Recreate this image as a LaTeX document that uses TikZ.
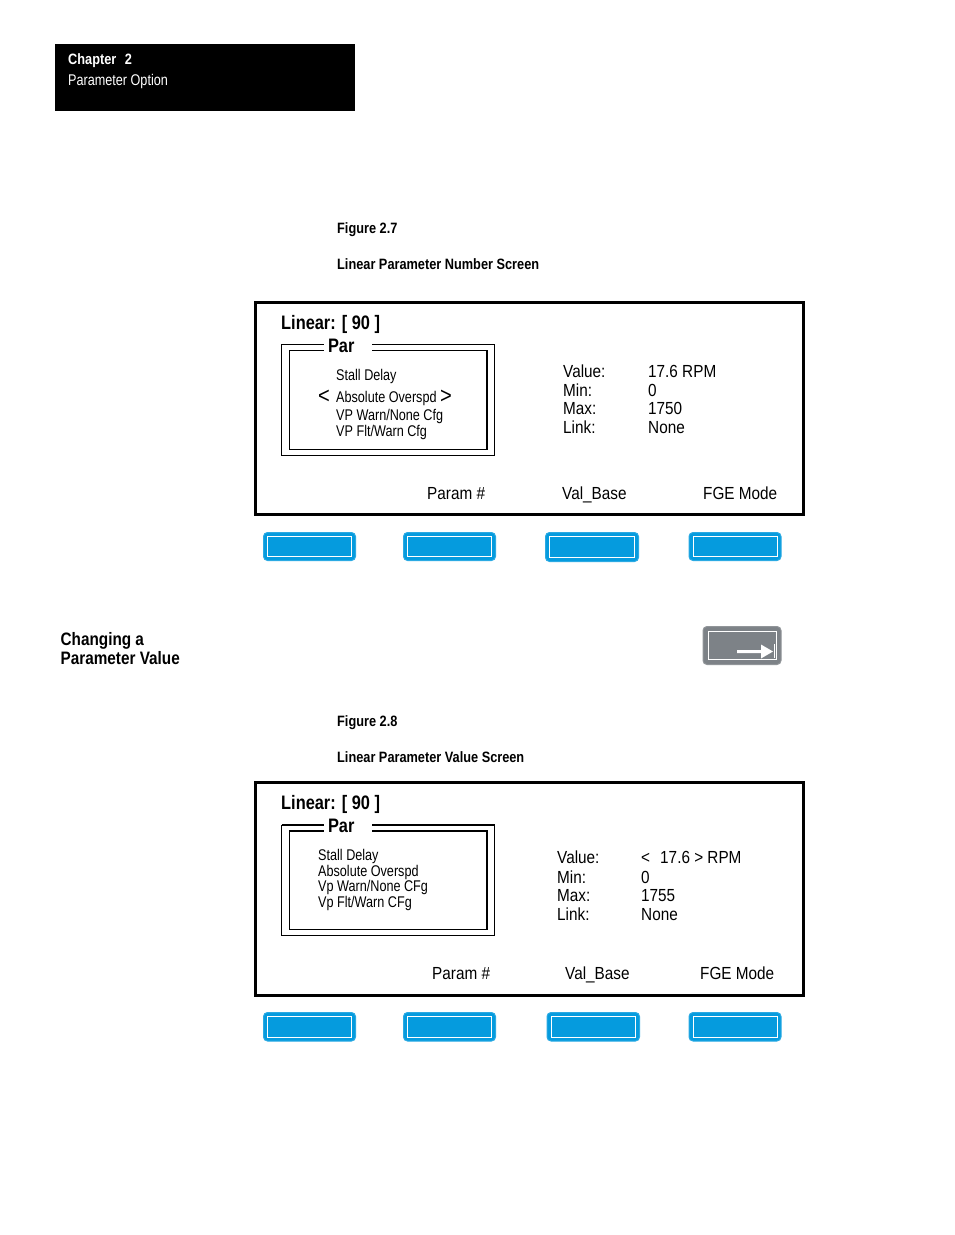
\documentclass[tikz,border=0pt]{standalone}
\usepackage{fontspec}
\setmainfont[FakeStretch=0.8]{Liberation Sans}
\newfontfamily\labelfont[FakeStretch=0.875]{Liberation Sans}
\newfontfamily\smallfont[FakeStretch=0.815]{Liberation Sans}
\newfontfamily\headfont[FakeStretch=0.85]{Liberation Sans}
\newfontfamily\titlefont[FakeStretch=0.84]{Liberation Sans}
\definecolor{keyblue}{RGB}{5,155,222}
\definecolor{keygray}{RGB}{125,130,135}
\tikzset{
	label/.style={anchor=base west,inner sep=0pt,font=\labelfont\fontsize{17.5}{20}\selectfont},
	small/.style={anchor=base west,inner sep=0pt,font=\smallfont\fontsize{15.5}{18}\selectfont},
	head/.style={anchor=base west,inner sep=0pt,font=\headfont\bfseries\fontsize{15}{18}\selectfont},
	title/.style={anchor=base west,inner sep=0pt,font=\titlefont\bfseries\fontsize{19.5}{22}\selectfont},
	section/.style={anchor=base west,inner sep=0pt,font=\headfont\bfseries\fontsize{18}{20}\selectfont},
	chevron/.style={anchor=base west,inner sep=0pt,font=\labelfont\fontsize{23}{24}\selectfont}
}
\def\softkey(#1,#2)(#3,#4){
	\draw[keyblue!85,fill=keyblue,line width=1pt,rounded corners=4pt] (#1,#2) rectangle (#3,#4);
	\draw[white,line width=1pt] (#1+4,#2+4) rectangle (#3-4,#4-4);
}
\begin{document}
\begin{tikzpicture}[x=1pt,y=-1pt]
	\useasboundingbox (0,0) rectangle (954,1235);
	
	\fill[black] (55,44) rectangle (355,111);
	\node[head,white] (chapter) at (68,64) {Chapter\,\, 2};
	\node[small,white] (option) at (68,85) {Parameter Option};
	
	\node[head] (fig27) at (337,233) {Figure 2.7};
	\node[head] (cap27) at (337,269) {Linear Parameter Number Screen};
	
	% first screen
	\draw[line width=3pt] (255,302.5) rectangle (803.5,514.5);
	\node[title] (lin1) at (281,329) {Linear: [ 90 ]};
	\draw[line width=1pt] (281.5,344.5) rectangle (494.5,455);
	\draw[line width=1pt] (289,350.5) rectangle (487,449.5);
	\draw[line width=1.5pt] (289,350.5) -- (487,350.5) -- (487,449.5);
	\node[title,anchor=center,fill=white,minimum width=48,minimum height=18] (par1) at (348,345.5) {\makebox[48pt][l]{\hspace{4pt}Par}};
	\node[small] (m1) at (336,380) {Stall Delay};
	\node[chevron] (lt1) at (318,403) {<};
	\node[small] (m2) at (336,402) {Absolute Overspd};
	\node[chevron] (gt1) at (440,403) {>};
	\node[small] (m3) at (336,420) {VP Warn/None Cfg};
	\node[small] (m4) at (336,436) {VP Flt/Warn Cfg};
	\node[label] (v1) at (563,377.5) {Value:};
	\node[label] (v2) at (648,377.5) {17.6 RPM};
	\node[label] (v3) at (563,396.5) {Min:};
	\node[label] (v4) at (648,396.5) {0};
	\node[label] (v5) at (563,414.5) {Max:};
	\node[label] (v6) at (648,414.5) {1750};
	\node[label] (v7) at (563,433.5) {Link:};
	\node[label] (v8) at (648,433.5) {None};
	\node[label] (k1) at (427,499.5) {Param \#};
	\node[label] (k2) at (562,499.5) {Val\_Base};
	\node[label] (k3) at (703,499.5) {FGE Mode};
	\softkey(263.5,532.5)(355.5,560.5)
	\softkey(403.5,532.5)(495.5,560.5)
	\softkey(545.5,532.5)(638.5,561.5)
	\softkey(689,532.5)(781,560.5)
	
	\node[section] (sec1) at (60.5,645) {Changing a};
	\node[section] (sec2) at (60.5,664) {Parameter Value};
	
	% arrow key
	\draw[keygray!85,fill=keygray,line width=1pt,rounded corners=4pt] (703,626.5) rectangle (781,664.5);
	\draw[white,line width=1pt] (708,631.5) rectangle (776.5,659.5);
	\fill[white] (737,650) -- (761,650) -- (761,644.5) -- (773,651.5) -- (761,658.5) -- (761,653) -- (737,653) -- cycle;
	\draw[white,line width=0.7pt] (774.5,644) -- (774.5,658);
	
	\node[head] (fig28) at (337,726) {Figure 2.8};
	\node[head] (cap28) at (337,762) {Linear Parameter Value Screen};
	
	% second screen
	\draw[line width=3pt] (255,782.5) rectangle (803.5,995);
	\node[title] (lin2) at (281,809) {Linear: [ 90 ]};
	\draw[line width=1pt] (281.5,825) rectangle (494.5,935.5);
	\draw[line width=1.5pt] (281.5,825) -- (494.5,825);
	\draw[line width=1pt] (289,831) rectangle (487,929.5);
	\draw[line width=1.5pt] (289,831) -- (487,831) -- (487,929.5);
	\node[title,anchor=center,fill=white,minimum width=48,minimum height=18] (par2) at (348,825.5) {\makebox[48pt][l]{\hspace{4pt}Par}};
	\node[small] (n1) at (318,860) {Stall Delay};
	\node[small] (n2) at (318,876) {Absolute Overspd};
	\node[small] (n3) at (318,891) {Vp Warn/None CFg};
	\node[small] (n4) at (318,907) {Vp Flt/Warn CFg};
	\node[label] (w1) at (557,863.5) {Value:};
	\node[label] (w2) at (641,863.5) {<\,\, 17.6 > RPM};
	\node[label] (w3) at (557,883.5) {Min:};
	\node[label] (w4) at (641,883.5) {0};
	\node[label] (w5) at (557,901.5) {Max:};
	\node[label] (w6) at (641,901.5) {1755};
	\node[label] (w7) at (557,920.5) {Link:};
	\node[label] (w8) at (641,920.5) {None};
	\node[label] (l1) at (432,979.5) {Param \#};
	\node[label] (l2) at (565,979.5) {Val\_Base};
	\node[label] (l3) at (700,979.5) {FGE Mode};
	\softkey(263.5,1012.5)(355.5,1041)
	\softkey(403.5,1012.5)(495.5,1041)
	\softkey(547,1012.5)(639.5,1041)
	\softkey(689,1012.5)(781,1041)
\end{tikzpicture}
\end{document}
